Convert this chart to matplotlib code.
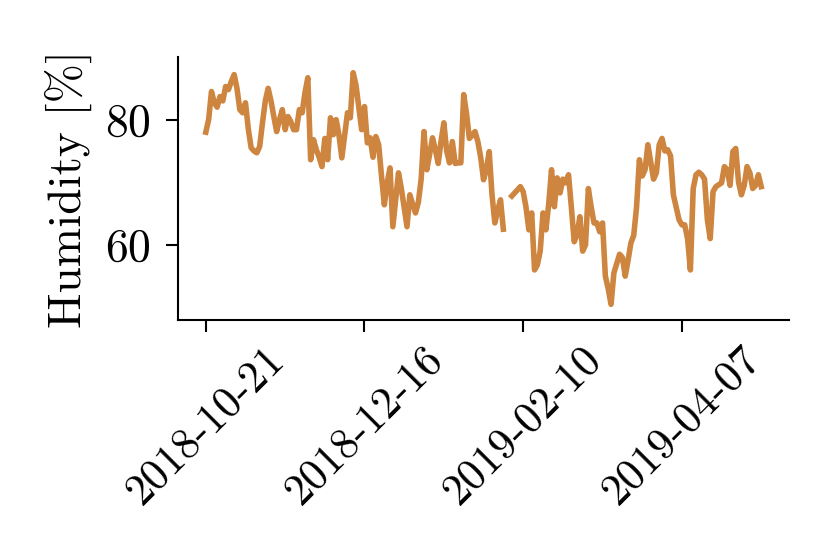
import numpy as np
import pandas as pd
import matplotlib
matplotlib.use("Agg")
import matplotlib.pyplot as plt
import matplotlib.dates as mdates

start_date = "2018-10-21"
humidity = [
    78.0, 80.0, 84.5, 82.7, 82.0, 83.7, 83.0, 85.3, 84.8, 86.1,
    87.2, 85.0, 81.6, 81.1, 82.7, 78.5, 75.5, 75.0, 74.7, 75.7,
    79.5, 83.0, 85.0, 83.0, 80.5, 78.1, 80.0, 81.6, 78.4, 80.5,
    79.7, 78.4, 78.4, 81.6, 81.1, 84.3, 86.7, 73.6, 76.8, 75.2,
    74.0, 72.5, 77.0, 73.6, 80.3, 77.6, 80.0, 77.5, 73.9, 77.5,
    81.1, 80.3, 87.5, 85.5, 82.0, 78.4, 82.1, 76.3, 77.1, 74.0,
    77.3, 76.0, 71.0, 66.4, 69.9, 72.3, 62.9, 67.2, 71.5, 69.0,
    66.0, 62.9, 68.0, 66.5, 65.1, 66.8, 70.5, 78.1, 72.0, 74.5,
    77.1, 75.2, 73.0, 76.5, 79.5, 75.0, 73.1, 76.5, 73.0, 73.1,
    73.1, 84.0, 81.0, 77.0, 77.5, 78.1, 76.5, 74.0, 70.4, 72.0,
    74.9, 68.0, 63.5, 65.5, 67.2, 62.5, np.nan, np.nan, 67.8, 68.3,
    68.8, 69.3, 68.5, 66.0, 62.4, 65.1, 56.0, 56.8, 59.0, 65.1,
    62.4, 66.5, 72.0, 66.1, 70.7, 68.3, 70.5, 69.9, 71.2, 66.0,
    60.5, 61.6, 64.5, 59.0, 60.0, 69.0, 66.0, 63.5, 63.5, 62.1,
    63.5, 55.0, 53.0, 50.5, 55.5, 57.0, 58.5, 58.0, 55.0, 57.5,
    60.3, 61.5, 66.0, 73.6, 71.0, 72.0, 76.0, 73.3, 70.5, 71.5,
    76.0, 77.0, 75.0, 75.2, 74.2, 68.0, 66.0, 64.0, 63.2, 63.2,
    61.0, 56.0, 69.0, 71.2, 71.6, 71.2, 70.5, 64.0, 61.0, 68.5,
    69.3, 69.6, 69.9, 72.5, 72.0, 69.5, 74.9, 75.4, 70.0, 68.0,
    69.5, 72.5, 71.5, 69.0, 69.5, 71.2, 69.3,
]
tick_dates = ["2018-10-21", "2018-12-16", "2019-02-10", "2019-04-07"]

dates = pd.date_range(start_date, periods=len(humidity), freq="D")

plt.rcParams["font.family"] = "cmr10"
plt.rcParams["mathtext.fontset"] = "cm"
plt.rcParams["axes.formatter.use_mathtext"] = True
plt.rcParams["font.size"] = 33

fig = plt.figure(figsize=(8.3, 5.54), dpi=100)
ax = fig.add_axes([0.2145, 0.4224, 0.7361, 0.4746])

ax.plot(dates, humidity, color="peru", linewidth=4.0)

ax.set_ylim(48, 90)
ax.set_yticks([60, 80])
ax.set_ylabel("Humidity [%]", fontsize=34, labelpad=9)
ax.set_xticks(pd.to_datetime(tick_dates))
ax.xaxis.set_major_formatter(mdates.DateFormatter("%Y-%m-%d"))
plt.setp(ax.get_xticklabels(), rotation=45, fontsize=31.5)

for side in ("top", "right"):
    ax.spines[side].set_visible(False)
for side in ("left", "bottom"):
    ax.spines[side].set_linewidth(1.5)
ax.tick_params(width=1.5, length=8.6)
ax.tick_params(axis="y", pad=11)
ax.tick_params(axis="x", pad=5)

fig.savefig("out.png", dpi=100)
